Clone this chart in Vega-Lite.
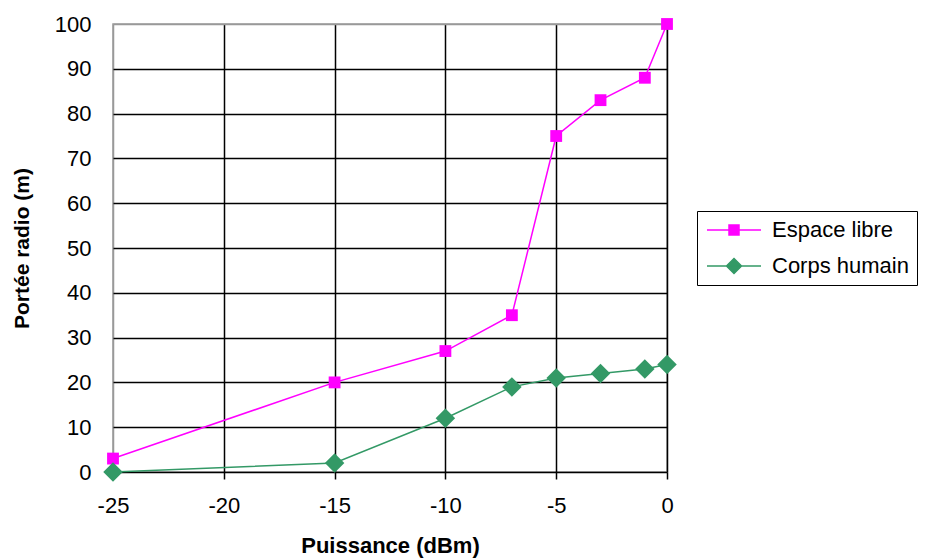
{
  "$schema": "https://vega.github.io/schema/vega-lite/v6.json",
  "width": 554,
  "height": 448,
  "autosize": "none",
  "padding": {"left": 113, "top": 24, "right": 262, "bottom": 86},
  "background": "white",
  "config": {
    "font": "Liberation Sans",
    "view": {"stroke": "#999999", "strokeWidth": 1.5},
    "axis": {"labelFont": "Liberation Sans", "titleFont": "Liberation Sans", "labelColor": "black", "titleColor": "black"}
  },
  "data": {
    "values": [
      {"p": -25, "r": 3, "series": "Espace libre"},
      {"p": -15, "r": 20, "series": "Espace libre"},
      {"p": -10, "r": 27, "series": "Espace libre"},
      {"p": -7, "r": 35, "series": "Espace libre"},
      {"p": -5, "r": 75, "series": "Espace libre"},
      {"p": -3, "r": 83, "series": "Espace libre"},
      {"p": -1, "r": 88, "series": "Espace libre"},
      {"p": 0, "r": 100, "series": "Espace libre"},
      {"p": -25, "r": 0, "series": "Corps humain"},
      {"p": -15, "r": 2, "series": "Corps humain"},
      {"p": -10, "r": 12, "series": "Corps humain"},
      {"p": -7, "r": 19, "series": "Corps humain"},
      {"p": -5, "r": 21, "series": "Corps humain"},
      {"p": -3, "r": 22, "series": "Corps humain"},
      {"p": -1, "r": 23, "series": "Corps humain"},
      {"p": 0, "r": 24, "series": "Corps humain"}
    ]
  },
  "encoding": {
    "x": {
      "field": "p", "type": "quantitative",
      "scale": {"domain": [-25, 0], "nice": false, "zero": false},
      "axis": {
        "title": "Puissance (dBm)", "values": [-25, -20, -15, -10, -5, 0],
        "labelExpr": "replace(datum.label, '−', '-')", "labelFlush": false,
        "titleFontSize": 22, "titleFontWeight": "bold", "titlePadding": 19,
        "labelFontSize": 22, "labelPadding": 16,
        "tickColor": "black", "tickSize": 7, "tickWidth": 1.5,
        "domain": false,
        "grid": true, "gridWidth": 1.5,
        "gridColor": {"condition": {"test": "datum.value === -25", "value": "#999999"}, "value": "black"}
      }
    },
    "y": {
      "field": "r", "type": "quantitative",
      "scale": {"domain": [0, 100], "nice": false},
      "axis": {
        "title": "Portée radio (m)", "values": [0, 10, 20, 30, 40, 50, 60, 70, 80, 90, 100],
        "titleFontSize": 21, "titleFontWeight": "bold", "titlePadding": 22,
        "labelFontSize": 22, "labelPadding": 22, "ticks": false, "labelFlush": false,
        "domain": false,
        "grid": true, "gridWidth": 1.5,
        "gridColor": {"condition": {"test": "datum.value === 100", "value": "#999999"}, "value": "black"}
      }
    },
    "color": {
      "field": "series", "type": "nominal",
      "scale": {"domain": ["Espace libre", "Corps humain"], "range": ["#FF00FF", "#339966"]},
      "legend": {
        "title": null, "orient": "none", "legendX": 584, "legendY": 187,
        "labelFontSize": 22, "labelColor": "black", "labelFont": "Liberation Sans",
        "symbolOpacity": 1, "symbolStrokeWidth": 1.5, "symbolSize": 400,
        "strokeColor": "black", "fillColor": "white", "padding": 8, "rowPadding": 14,
        "symbolOffset": 18, "labelOffset": 27
      }
    }
  },
  "layer": [
    {
      "mark": {"type": "line", "strokeWidth": 1.5}
    },
    {
      "transform": [{"filter": "datum.series === 'Espace libre'"}],
      "mark": {"type": "point", "shape": "square", "filled": true, "size": 140, "opacity": 1}
    },
    {
      "transform": [{"filter": "datum.series === 'Corps humain'"}],
      "mark": {"type": "point", "shape": "diamond", "filled": true, "size": 380, "opacity": 1}
    },
    {
      "mark": {"type": "point", "filled": true, "opacity": 0, "size": 400},
      "encoding": {
        "shape": {
          "field": "series", "type": "nominal",
          "scale": {"domain": ["Espace libre", "Corps humain"], "range": ["M-2.7,0H2.7M-0.5,-0.5H0.5V0.5H-0.5Z", "M-2.7,0H2.7M0,-0.75L0.75,0L0,0.75L-0.75,0Z"]},
          "legend": {
            "title": null, "orient": "none", "legendX": 584, "legendY": 187,
            "labelFontSize": 22, "labelColor": "black", "labelFont": "Liberation Sans",
            "symbolOpacity": 1, "symbolStrokeWidth": 1.5, "symbolSize": 400,
            "strokeColor": "black", "fillColor": "white", "padding": 8, "rowPadding": 14,
            "symbolOffset": 18, "labelOffset": 27
          }
        }
      }
    }
  ]
}
